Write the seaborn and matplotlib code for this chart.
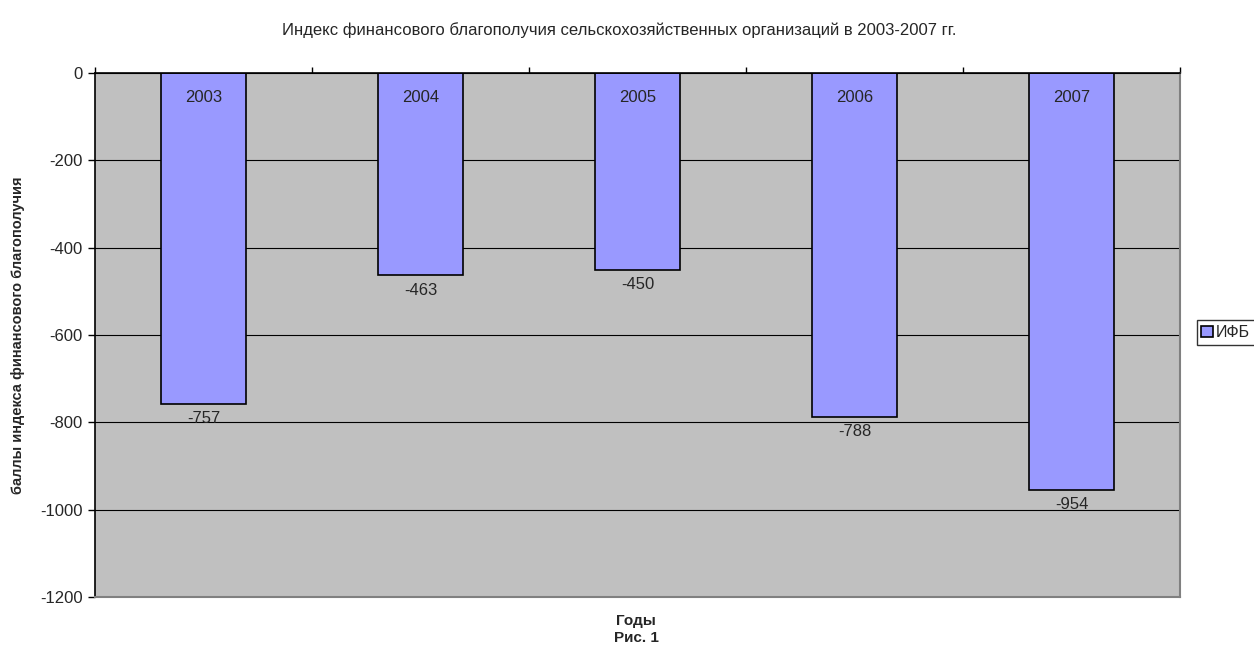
import matplotlib
matplotlib.use("Agg")
import matplotlib.pyplot as plt
import seaborn as sns
import pandas as pd
import numpy as np

years = ["2003", "2004", "2005", "2006", "2007"]
values = [-757, -463, -450, -788, -954]
series_name = "ИФБ"
title = "Индекс финансового благополучия сельскохозяйственных организаций в 2003-2007 гг."
ylabel = "баллы индекса финансового благополучия"
xlabel = "Годы"
caption = "Рис. 1"

sns.set_style("white")
plt.rcParams['font.family'] = ['Liberation Sans', 'DejaVu Sans']
plt.rcParams['axes.unicode_minus'] = False

df = pd.DataFrame({"year": years, "value": values, "series": series_name})

fig = plt.figure(figsize=(12.54, 6.48), dpi=100)
ax = fig.add_axes([95/1254, 1-597/648, (1180-95)/1254, (597-73)/648])
ax.set_facecolor("#C0C0C0")

sns.barplot(data=df, x="year", y="value", hue="series", palette=["#9999FF"],
            saturation=1, width=0.39, edgecolor="black", linewidth=1.2, ax=ax, legend=True)

ax.set_ylim(-1200, 0)
ax.set_xlim(-0.5, len(years) - 0.5)
ax.set_yticks(np.arange(-1200, 1, 200))
ax.tick_params(axis="y", labelsize=12, length=5, width=1, color="black", left=True, pad=4)
ax.yaxis.grid(True, color="black", linewidth=0.8)
ax.set_axisbelow(True)

# category ticks at top (category axis at 0)
ax.xaxis.tick_top()
ax.set_xticks(np.arange(-0.5, len(years), 1.0))
ax.set_xticklabels([])
ax.tick_params(axis="x", top=True, bottom=False, length=4, width=1, color="black")

for sp in ["left", "top"]:
    ax.spines[sp].set_color("black")
    ax.spines[sp].set_linewidth(1.2)
for sp in ["right", "bottom"]:
    ax.spines[sp].set_color("#808080")
    ax.spines[sp].set_linewidth(1.5)

for i, (yr, v) in enumerate(zip(years, values)):
    ax.text(i, -55, yr, ha="center", va="center", fontsize=12)
    ax.text(i, v - 34, str(v), ha="center", va="center", fontsize=12)

ax.set_xlabel("")
ax.set_ylabel(ylabel, fontsize=10.5, fontweight="bold")
ax.yaxis.set_label_coords(-(95 - 25) / 1085, 0.5)

fig.text(619/1254, 1-30/648, title, ha="center", va="center", fontsize=12)
fig.text(636/1254, 1-621/648, xlabel, ha="center", va="center", fontsize=11, fontweight="bold")
fig.text(636/1254, 1-638/648, caption, ha="center", va="center", fontsize=11, fontweight="bold")

leg = ax.legend(loc="center left", bbox_to_anchor=(1.008, 0.505), frameon=True,
                fontsize=11.5, handlelength=0.7, handleheight=0.7, handletextpad=0.2,
                borderpad=0.3, fancybox=False, edgecolor="black")
leg.get_frame().set_linewidth(1)

fig.savefig("out.png", dpi=100, facecolor="white")
